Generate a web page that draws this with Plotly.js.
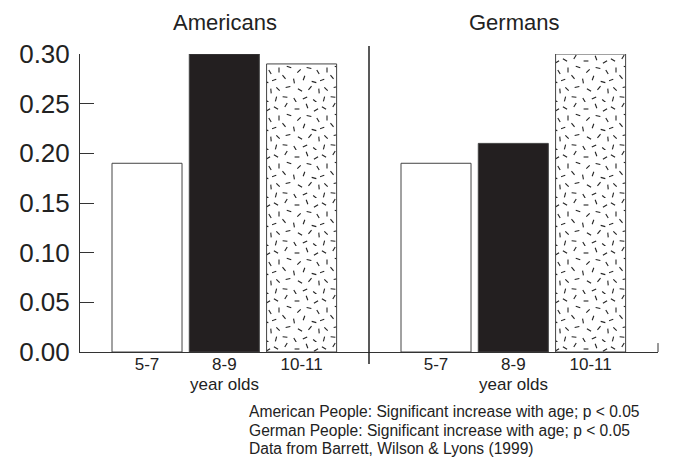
<!DOCTYPE html>
<html>
<head>
<meta charset="utf-8">
<script src="https://cdn.plot.ly/plotly-3.0.1.min.js"></script>
<style>
  html, body { margin: 0; padding: 0; background: #fff; }
  #chart { width: 699px; height: 476px; }
</style>
</head>
<body>
<div id="chart"></div>
<script>
// Proportions by age group, per nationality
const ageGroups = ['5-7', '8-9', '10-11'];
const americans = [0.19, 0.30, 0.29];
const germans = [0.19, 0.21, 0.30];
const groupTitles = ['Americans', 'Germans'];
const yTicks = [0, 0.05, 0.10, 0.15, 0.20, 0.25, 0.30];
const xTitle = 'year olds';
const notes = [
  'American People: Significant increase with age; p &lt; 0.05',
  'German People: Significant increase with age; p &lt; 0.05',
  'Data from Barrett, Wilson &amp; Lyons (1999)'
];

const FONT = 'Liberation Sans, Arial, Helvetica, sans-serif';
const INK = '#222';

// per-age bar styling: open, solid, speckled
const fills = ['#ffffff', '#231f20', '#ffffff'];
const shapes = ['', '', '.'];

function barTrace(values, xa) {
  return {
    type: 'bar',
    x: ageGroups,
    y: values,
    xaxis: xa,
    yaxis: 'y',
    hoverinfo: 'skip',
    marker: {
      color: fills,
      line: { color: '#444', width: 1 },
      pattern: { shape: shapes, bgcolor: '#ffffff', fgcolor: INK, size: 40, solidity: 0.05 }
    }
  };
}

function catAxis(domain) {
  return {
    type: 'category',
    domain: domain,
    range: [-0.867, 2.872],
    showline: true,
    linecolor: '#333',
    linewidth: 1,
    ticks: '',
    showgrid: false,
    zeroline: false,
    tickfont: { family: FONT, size: 17, color: INK },
    ticklabelstandoff: -3,
    anchor: 'y',
    fixedrange: true
  };
}

const noteYs = [-0.2013, -0.2651, -0.3255];

const annotations = [
  { text: groupTitles[0], xref: 'paper', yref: 'paper', x: 0.25, y: 1, xanchor: 'center',
    yanchor: 'bottom', yshift: 17, showarrow: false, font: { family: FONT, size: 22, color: INK } },
  { text: groupTitles[1], xref: 'paper', yref: 'paper', x: 0.75, y: 1, xanchor: 'center',
    yanchor: 'bottom', yshift: 17, showarrow: false, font: { family: FONT, size: 22, color: INK } },
  // shared axis caption under the middle age group of each panel
  { text: xTitle, xref: 'x', yref: 'paper', x: ageGroups[1], y: -0.108, xanchor: 'center',
    yanchor: 'middle', showarrow: false, font: { family: FONT, size: 17, color: INK } },
  { text: xTitle, xref: 'x2', yref: 'paper', x: ageGroups[1], y: -0.108, xanchor: 'center',
    yanchor: 'middle', showarrow: false, font: { family: FONT, size: 17, color: INK } }
].concat(notes.map(function (t, i) {
  return { text: t, xref: 'paper', yref: 'paper', x: 0.289, y: noteYs[i],
    xanchor: 'left', yanchor: 'middle', align: 'left', showarrow: false,
    font: { family: FONT, size: 15.6, color: INK } };
}));

const layout = {
  width: 699,
  height: 476,
  margin: { l: 80, r: 41, t: 54, b: 124 },
  paper_bgcolor: '#fff',
  plot_bgcolor: '#fff',
  showlegend: false,
  bargap: 0.094,
  font: { family: FONT, color: INK },
  xaxis: catAxis([0, 0.5]),
  xaxis2: catAxis([0.5, 1]),
  yaxis: {
    range: [0, 0.30],
    tickvals: yTicks,
    tickformat: '.2f',
    ticks: 'inside',
    ticklen: 14,
    tickwidth: 1,
    tickcolor: '#333',
    showline: true,
    linecolor: '#333',
    linewidth: 1,
    showgrid: false,
    zeroline: false,
    tickfont: { family: FONT, size: 26, color: INK },
    ticklabelstandoff: 4,
    fixedrange: true
  },
  shapes: [
    // divider between the two nationalities
    { type: 'line', xref: 'paper', yref: 'paper', x0: 0.5, x1: 0.5, y0: -0.0403, y1: 1.027,
      line: { color: INK, width: 1.5 } },
    // closing tick at the right end of the baseline
    { type: 'line', xref: 'paper', yref: 'paper', x0: 1, x1: 1, y0: 0, y1: 0.03,
      line: { color: '#333', width: 1 } }
  ],
  annotations: annotations
};

// speckle texture tile (48 px square): [cx, cy, angle in degrees]
const speckles = [
  [4,6,30],[14,3,-60],[25,7,0],[35,4,70],[44,8,-30],
  [7,16,90],[17,13,20],[27,17,-45],[37,14,10],[46,18,60],
  [2,26,-20],[12,23,50],[22,27,80],[32,24,-70],[42,28,15],
  [6,35,45],[16,33,-10],[28,36,30],[38,34,-50],[47,37,85],
  [4,45,-75],[13,43,5],[23,46,60],[33,44,-25],[43,47,40]
];

function speckleTiles(gd) {
  const NS = 'http://www.w3.org/2000/svg';
  const T = 48;
  gd.querySelectorAll('pattern').forEach(function (p) {
    while (p.firstChild) p.removeChild(p.firstChild);
    p.setAttribute('width', T);
    p.setAttribute('height', T);
    p.setAttribute('patternUnits', 'userSpaceOnUse');
    const bg = document.createElementNS(NS, 'rect');
    bg.setAttribute('width', T);
    bg.setAttribute('height', T);
    bg.setAttribute('fill', '#fff');
    p.appendChild(bg);
    speckles.forEach(function (s) {
      const a = s[2] * Math.PI / 180, h = 2.4;
      const ln = document.createElementNS(NS, 'line');
      ln.setAttribute('x1', s[0] - h * Math.cos(a));
      ln.setAttribute('y1', s[1] - h * Math.sin(a));
      ln.setAttribute('x2', s[0] + h * Math.cos(a));
      ln.setAttribute('y2', s[1] + h * Math.sin(a));
      ln.setAttribute('stroke', INK);
      ln.setAttribute('stroke-width', 1.1);
      p.appendChild(ln);
    });
  });
}

const gd = document.getElementById('chart');
Plotly.newPlot(gd, [barTrace(americans, 'x'), barTrace(germans, 'x2')], layout,
  { staticPlot: true, displayModeBar: false }).then(function () { speckleTiles(gd); });
</script>
</body>
</html>
